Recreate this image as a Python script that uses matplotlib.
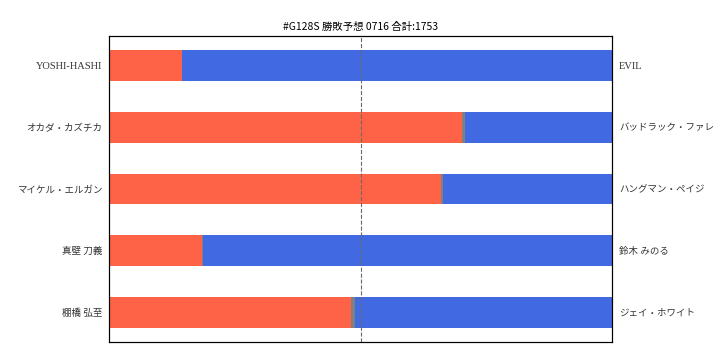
import matplotlib
matplotlib.use("Agg")
import matplotlib.pyplot as plt
import numpy as np

plt.rcParams['font.family'] = ['Noto Sans CJK JP', 'DejaVu Sans']

# 勝敗予想データ（割合）
left_names = ['YOSHI-HASHI', 'オカダ・カズチカ', 'マイケル・エルガン', '真壁 刀義', '棚橋 弘至']
right_names = ['EVIL', 'バッドラック・ファレ', 'ハングマン・ペイジ', '鈴木 みのる', 'ジェイ・ホワイト']
left_win = [0.145, 0.702, 0.660, 0.185, 0.481]
draw = [0.0, 0.006, 0.004, 0.002, 0.008]
right_win = [1 - l - d for l, d in zip(left_win, draw)]

y = np.arange(len(left_names))
label_font = ['Liberation Serif', 'Noto Sans CJK JP']

fig, ax = plt.subplots(figsize=(7.2, 3.6), dpi=100)
fig.subplots_adjust(left=0.152, right=0.85, top=0.9, bottom=0.05)

ax.barh(y, left_win, height=0.5, color='tomato')
ax.barh(y, draw, height=0.5, left=left_win, color='gray')
ax.barh(y, right_win, height=0.5, left=np.array(left_win) + np.array(draw), color='royalblue')
ax.axvline(0.5, color='dimgray', linestyle='--', linewidth=0.8)

ax.set_xlim(0, 1)
ax.set_xticks([])
ax.set_yticks(y)
ax.set_yticklabels(left_names, family=label_font, color='#333333')
ax.tick_params(axis='y', length=0, pad=5)
ax.invert_yaxis()

ax2 = ax.twinx()
ax2.set_ylim(ax.get_ylim())
ax2.set_yticks(y)
ax2.set_yticklabels(right_names, family=label_font, color='#333333')
ax2.tick_params(axis='y', length=0, pad=5)

# 英字は少し大きめ、カナは小さめ
for lbl in ax.get_yticklabels() + ax2.get_yticklabels():
    lbl.set_fontsize(7.5 if lbl.get_text().isascii() else 6.8)

ax.set_title('#G128S 勝敗予想 0716 合計:1753', fontsize=7.5, pad=4)

plt.savefig('out.png')
